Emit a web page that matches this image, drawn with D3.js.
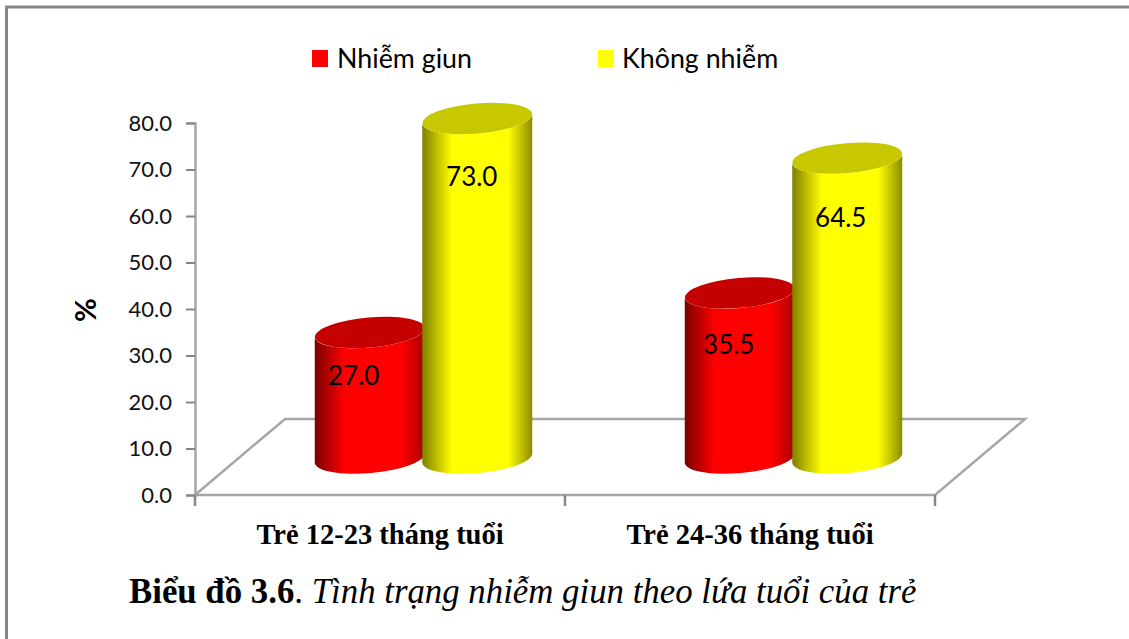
<!DOCTYPE html>
<html lang="vi">
<head>
<meta charset="utf-8">
<title>Biểu đồ 3.6</title>
<script src="https://cdnjs.cloudflare.com/ajax/libs/d3/7.9.0/d3.min.js"></script>
<style>
  html, body { margin: 0; padding: 0; background: #fff; }
  svg { display: block; }
</style>
</head>
<body>
<svg id="chart" width="1129" height="639"></svg>
<script>
// Chart data
const categories = ["Trẻ 12-23 tháng tuổi", "Trẻ 24-36 tháng tuổi"];
const seriesNames = ["Nhiễm giun", "Không nhiễm"];
const infected = [27.0, 35.5];
const notInfected = [73.0, 64.5];
const yTicks = [0, 10, 20, 30, 40, 50, 60, 70, 80];

// Hand-placed offsets of the value labels (dx from bar centre, dy from bar top)
const labelNudge = [
  [[-16, 53], [-5.5, 67]],
  [[-11, 61], [-6.5, 69]]
];

const seriesStyle = [
  { id: "red", edgeL: "#7a0000", mid: "#ff0000", edgeR: "#a80000", top: "#c40000" },
  { id: "yellow", edgeL: "#808000", mid: "#ffff00", edgeR: "#8c8c00", top: "#c8c800" }
];

const svg = d3.select("#chart");
const FONT_SANS = "Lato, 'Noto Sans', sans-serif";
const FONT_SERIF = "'Liberation Serif', serif";
const GRID = "#a6a6a6", TICK = "#868686";

// Outer frame: top and left rules only
svg.append("path")
  .attr("d", "M6.5 639V7H1129")
  .attr("fill", "none")
  .attr("stroke", "#868686")
  .attr("stroke-width", 3);

// Scales
const y = d3.scaleLinear().domain([0, 80]).range([495, 123]);
const x0 = d3.scaleBand().domain(categories).range([195, 935]);
const depth = { dx: 90, dy: -76 };
const plotLeft = x0.range()[0], plotRight = x0.range()[1];

// Floor of the 3D plot
svg.append("path")
  .attr("d", `M${plotLeft} ${y(0)}L${plotLeft + depth.dx} ${y(0) + depth.dy}H${plotRight + depth.dx}L${plotRight} ${y(0)}Z`)
  .attr("fill", "#fff")
  .attr("stroke", GRID)
  .attr("stroke-width", 2.5);

// Value axis
const yAxis = svg.append("g")
  .attr("transform", `translate(${plotLeft},0)`)
  .call(d3.axisLeft(y).tickValues(yTicks).tickFormat(d3.format(".1f")).tickSize(9).tickPadding(14));
yAxis.select(".domain").attr("stroke", GRID).attr("stroke-width", 2.5);
yAxis.selectAll(".tick line").attr("stroke", TICK).attr("stroke-width", 2);
yAxis.selectAll("text")
  .attr("font-family", FONT_SANS).attr("font-size", 22).attr("fill", "#111");

// Category axis: ticks sit on the band boundaries
const xAxis = svg.append("g")
  .attr("transform", `translate(0,${y(0)})`)
  .call(d3.axisBottom(x0).tickSize(0).tickPadding(29));
xAxis.select(".domain").remove();
xAxis.selectAll("text")
  .attr("font-family", FONT_SERIF).attr("font-weight", "bold")
  .attr("font-size", 28.5).attr("fill", "#000");
xAxis.selectAll("line.boundary")
  .data([plotLeft, plotLeft + x0.bandwidth(), plotRight])
  .join("line")
  .attr("class", "boundary")
  .attr("x1", d => d).attr("x2", d => d)
  .attr("y1", 0).attr("y2", 11)
  .attr("stroke", TICK).attr("stroke-width", 2.5);

// Cylinder gradients
const defs = svg.append("defs");
seriesStyle.forEach(s => {
  const g = defs.append("linearGradient").attr("id", "grad-" + s.id);
  [[0, s.edgeL], [0.27, s.mid], [0.78, s.mid], [1, s.edgeR]].forEach(([o, c]) =>
    g.append("stop").attr("offset", o).attr("stop-color", c));
});

// Cylinders
const bars = [];
categories.forEach((c, i) => {
  [infected[i], notInfected[i]].forEach((v, j) => bars.push({ cat: c, i, j, v }));
});

const groupInset = 121;
const xInner = d3.scaleBand().domain([0, 1]).range([0, 215]);
const barW = 110, rx = barW / 2, ry = 15, tilt = -5;
const baseY = 458;
const unit = y(0) - y(1);
const slope = Math.tan(tilt * Math.PI / 180) * rx;

const cx = d => x0(d.cat) + groupInset + xInner(d.j) + xInner.bandwidth() / 2;
const topY = d => baseY - d.v * unit;

const gBars = svg.append("g");
const cyl = gBars.selectAll("g").data(bars).join("g");

cyl.append("path")
  .attr("fill", d => `url(#grad-${seriesStyle[d.j].id})`)
  .attr("d", d => {
    const c = cx(d), t = topY(d);
    return `M${c - rx} ${t - slope}` +
      `L${c - rx} ${baseY - slope}` +
      `A${rx} ${ry} ${tilt} 0 0 ${c + rx} ${baseY + slope}` +
      `L${c + rx} ${t + slope}` +
      `A${rx} ${ry} ${tilt} 0 1 ${c - rx} ${t - slope}Z`;
  });

cyl.append("ellipse")
  .attr("rx", rx).attr("ry", ry)
  .attr("fill", d => seriesStyle[d.j].top)
  .attr("transform", d => `translate(${cx(d)},${topY(d)}) rotate(${tilt})`);

// Value labels
svg.append("g").selectAll("text").data(bars).join("text")
  .attr("x", d => cx(d) + labelNudge[d.i][d.j][0])
  .attr("y", d => topY(d) + labelNudge[d.i][d.j][1])
  .attr("text-anchor", "middle")
  .attr("font-family", FONT_SANS).attr("font-size", 26).attr("fill", "#000")
  .text(d => d.v.toFixed(1));

// Legend
const legendItems = svg.append("g").selectAll("g").data(seriesNames).join("g")
  .attr("transform", (d, i) => `translate(${[312, 598][i]},50)`);
legendItems.append("rect")
  .attr("width", 16).attr("height", 17)
  .attr("fill", (d, i) => ["#ff0000", "#ffff00"][i]);
legendItems.append("text")
  .attr("x", (d, i) => [25, 24][i]).attr("y", 18)
  .attr("font-family", FONT_SANS).attr("font-size", 26.8).attr("fill", "#000")
  .text(d => d);

// Axis title
svg.append("text")
  .attr("transform", "translate(96,310) rotate(-90)")
  .attr("text-anchor", "middle")
  .attr("font-family", FONT_SANS).attr("font-weight", "bold").attr("font-size", 29).attr("fill", "#000")
  .text("%");

// Caption
const caption = svg.append("text")
  .attr("x", 129).attr("y", 603)
  .attr("font-family", FONT_SERIF).attr("font-size", 34.8).attr("fill", "#000");
caption.append("tspan").attr("font-weight", "bold").text("Biểu đồ 3.6");
caption.append("tspan").text(". ");
caption.append("tspan").attr("font-style", "italic").text("Tình trạng nhiễm giun theo lứa tuổi của trẻ");
</script>
</body>
</html>
